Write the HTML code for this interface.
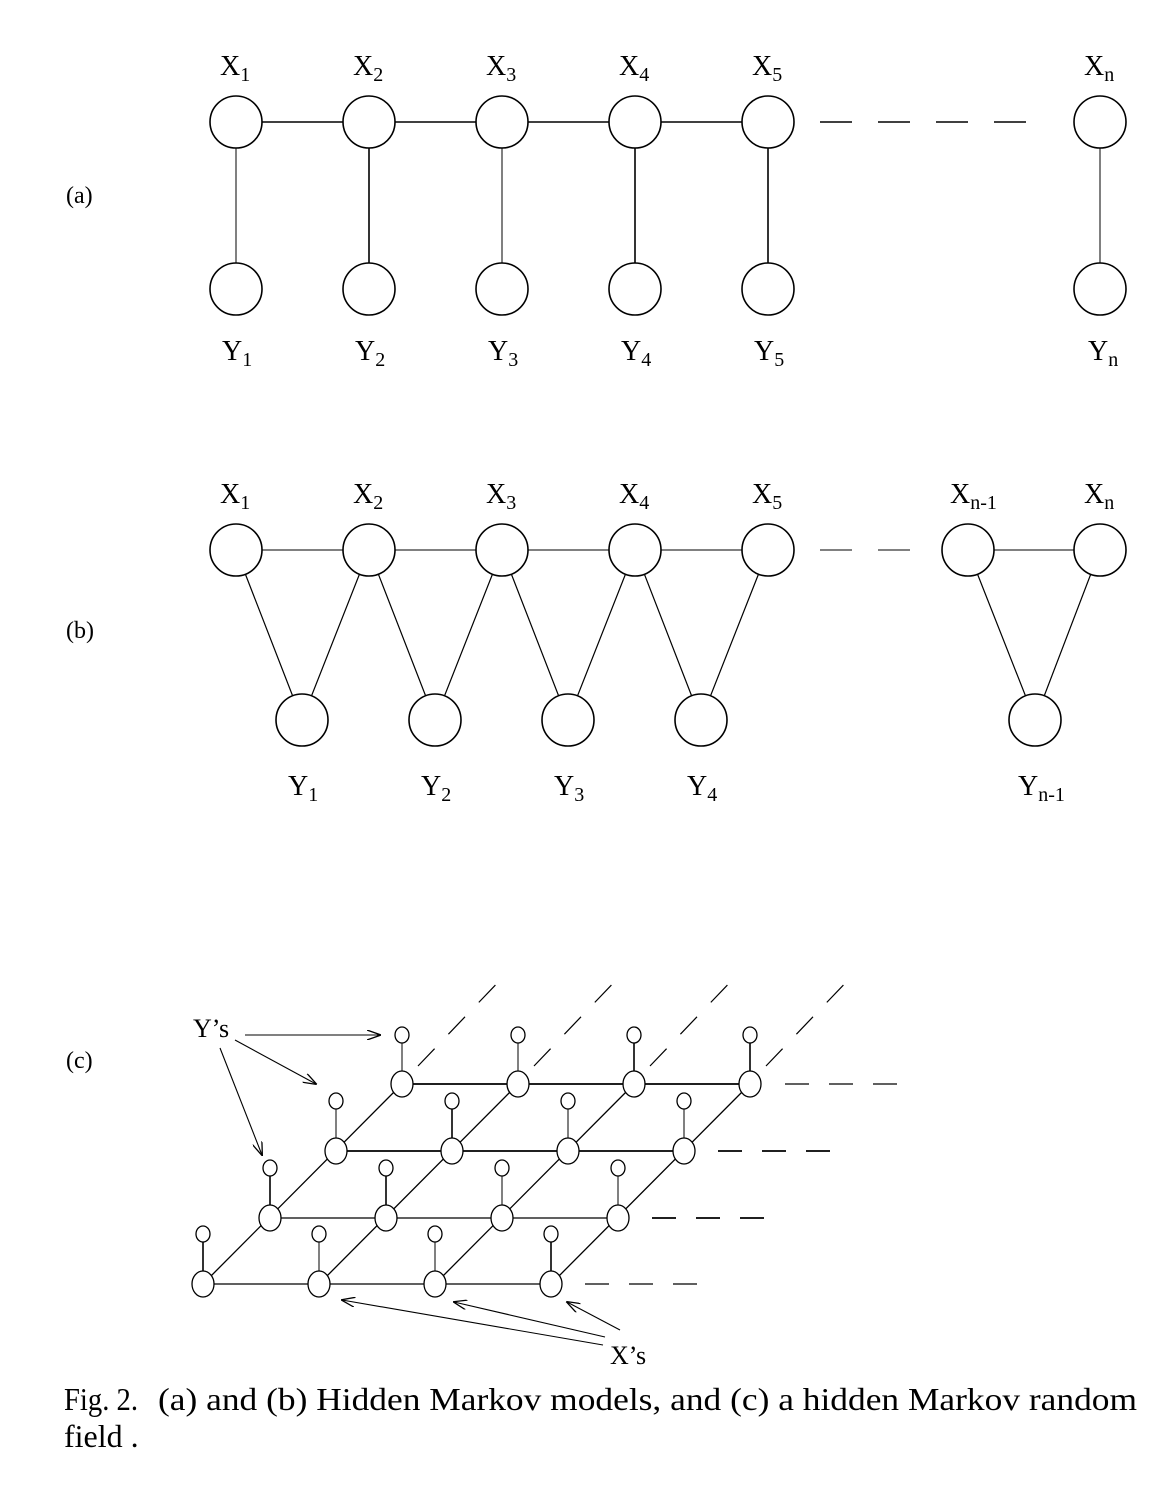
<!DOCTYPE html>
<html><head><style>
html,body{margin:0;padding:0;background:#fff;}
svg{display:block;}
text{font-family:"Liberation Serif",serif;fill:#000;}
</style></head><body>
<svg width="1172" height="1500" viewBox="0 0 1172 1500" xmlns="http://www.w3.org/2000/svg">
<defs>
<marker id="ah" markerWidth="14" markerHeight="10" refX="13" refY="5" orient="auto" markerUnits="userSpaceOnUse">
<path d="M0,0 L14,5 L0,10" fill="none" stroke="#000" stroke-width="1.3"/>
</marker>
</defs>
<g stroke="#000" stroke-width="1.6" fill="none">
<line x1="262" y1="122" x2="343" y2="122"/>
<line x1="395" y1="122" x2="476" y2="122"/>
<line x1="528" y1="122" x2="609" y2="122"/>
<line x1="661" y1="122" x2="742" y2="122"/>
<line x1="820" y1="122" x2="1050" y2="122" stroke-dasharray="32,26"/>
<line x1="236" y1="148" x2="236" y2="263" stroke-width="1"/>
<line x1="369" y1="148" x2="369" y2="263"/>
<line x1="502" y1="148" x2="502" y2="263" stroke-width="1"/>
<line x1="635" y1="148" x2="635" y2="263"/>
<line x1="768" y1="148" x2="768" y2="263"/>
<line x1="1100" y1="148" x2="1100" y2="263" stroke-width="1"/>
<circle cx="236" cy="122" r="26"/><circle cx="369" cy="122" r="26"/><circle cx="502" cy="122" r="26"/><circle cx="635" cy="122" r="26"/><circle cx="768" cy="122" r="26"/><circle cx="1100" cy="122" r="26"/>
<circle cx="236" cy="289" r="26"/><circle cx="369" cy="289" r="26"/><circle cx="502" cy="289" r="26"/><circle cx="635" cy="289" r="26"/><circle cx="768" cy="289" r="26"/><circle cx="1100" cy="289" r="26"/>
<line x1="262" y1="550" x2="343" y2="550" stroke-width="1"/>
<line x1="395" y1="550" x2="476" y2="550" stroke-width="1"/>
<line x1="528" y1="550" x2="609" y2="550" stroke-width="1"/>
<line x1="661" y1="550" x2="742" y2="550" stroke-width="1"/>
<line x1="820" y1="550" x2="920" y2="550" stroke-dasharray="32,26" stroke-width="1"/>
<line x1="994" y1="550" x2="1074" y2="550" stroke-width="1"/>
<g stroke-width="1.2">
<line x1="236" y1="550" x2="302" y2="720"/><line x1="302" y1="720" x2="369" y2="550"/>
<line x1="369" y1="550" x2="435" y2="720"/><line x1="435" y1="720" x2="502" y2="550"/>
<line x1="502" y1="550" x2="568" y2="720"/><line x1="568" y1="720" x2="635" y2="550"/>
<line x1="635" y1="550" x2="701" y2="720"/><line x1="701" y1="720" x2="768" y2="550"/>
<line x1="968" y1="550" x2="1035" y2="720"/><line x1="1035" y1="720" x2="1100" y2="550"/>
</g>
<g fill="#fff">
<circle cx="236" cy="550" r="26"/><circle cx="369" cy="550" r="26"/><circle cx="502" cy="550" r="26"/><circle cx="635" cy="550" r="26"/><circle cx="768" cy="550" r="26"/><circle cx="968" cy="550" r="26"/><circle cx="1100" cy="550" r="26"/>
<circle cx="302" cy="720" r="26"/><circle cx="435" cy="720" r="26"/><circle cx="568" cy="720" r="26"/><circle cx="701" cy="720" r="26"/><circle cx="1035" cy="720" r="26"/>
</g>
<g stroke-width="1.3">
<line x1="203" y1="1284" x2="551" y2="1284"/>
<line x1="270" y1="1218" x2="618" y2="1218"/>
<line x1="336" y1="1151" x2="684" y2="1151" stroke-width="1.8"/>
<line x1="402" y1="1084" x2="750" y2="1084" stroke-width="1.8"/>
<line x1="203" y1="1284" x2="402" y2="1084"/>
<line x1="319" y1="1284" x2="518" y2="1084"/>
<line x1="435" y1="1284" x2="634" y2="1084"/>
<line x1="551" y1="1284" x2="750" y2="1084"/>
</g>
<g stroke-dasharray="24,20" stroke-width="1.2">
<line x1="585" y1="1284" x2="705" y2="1284"/>
<line x1="652" y1="1218" x2="770" y2="1218" stroke-width="1.8"/>
<line x1="718" y1="1151" x2="835" y2="1151" stroke-width="1.8"/>
<line x1="785" y1="1084" x2="905" y2="1084"/>
<line x1="418" y1="1066" x2="505" y2="975"/>
<line x1="534" y1="1066" x2="621" y2="975"/>
<line x1="650" y1="1066" x2="737" y2="975"/>
<line x1="766" y1="1066" x2="853" y2="975"/>
</g>
<g stroke-width="1.6">
<line x1="203" y1="1242" x2="203" y2="1272"/><line x1="319" y1="1242" x2="319" y2="1272" stroke-width="1"/><line x1="435" y1="1242" x2="435" y2="1272" stroke-width="1"/><line x1="551" y1="1242" x2="551" y2="1272"/>
<line x1="270" y1="1176" x2="270" y2="1206"/><line x1="386" y1="1176" x2="386" y2="1206"/><line x1="502" y1="1176" x2="502" y2="1206" stroke-width="1"/><line x1="618" y1="1176" x2="618" y2="1206" stroke-width="1"/>
<line x1="336" y1="1109" x2="336" y2="1139" stroke-width="1"/><line x1="452" y1="1109" x2="452" y2="1139"/><line x1="568" y1="1109" x2="568" y2="1139" stroke-width="1"/><line x1="684" y1="1109" x2="684" y2="1139" stroke-width="1"/>
<line x1="402" y1="1043" x2="402" y2="1072" stroke-width="1"/><line x1="518" y1="1043" x2="518" y2="1072" stroke-width="1"/><line x1="634" y1="1043" x2="634" y2="1072"/><line x1="750" y1="1043" x2="750" y2="1072"/>
</g>
<g fill="#fff" stroke-width="1.3">
<ellipse cx="203" cy="1284" rx="11" ry="13"/><ellipse cx="319" cy="1284" rx="11" ry="13"/><ellipse cx="435" cy="1284" rx="11" ry="13"/><ellipse cx="551" cy="1284" rx="11" ry="13"/>
<ellipse cx="270" cy="1218" rx="11" ry="13"/><ellipse cx="386" cy="1218" rx="11" ry="13"/><ellipse cx="502" cy="1218" rx="11" ry="13"/><ellipse cx="618" cy="1218" rx="11" ry="13"/>
<ellipse cx="336" cy="1151" rx="11" ry="13"/><ellipse cx="452" cy="1151" rx="11" ry="13"/><ellipse cx="568" cy="1151" rx="11" ry="13"/><ellipse cx="684" cy="1151" rx="11" ry="13"/>
<ellipse cx="402" cy="1084" rx="11" ry="13"/><ellipse cx="518" cy="1084" rx="11" ry="13"/><ellipse cx="634" cy="1084" rx="11" ry="13"/><ellipse cx="750" cy="1084" rx="11" ry="13"/>
<ellipse cx="203" cy="1234" rx="7" ry="8"/><ellipse cx="319" cy="1234" rx="7" ry="8"/><ellipse cx="435" cy="1234" rx="7" ry="8"/><ellipse cx="551" cy="1234" rx="7" ry="8"/>
<ellipse cx="270" cy="1168" rx="7" ry="8"/><ellipse cx="386" cy="1168" rx="7" ry="8"/><ellipse cx="502" cy="1168" rx="7" ry="8"/><ellipse cx="618" cy="1168" rx="7" ry="8"/>
<ellipse cx="336" cy="1101" rx="7" ry="8"/><ellipse cx="452" cy="1101" rx="7" ry="8"/><ellipse cx="568" cy="1101" rx="7" ry="8"/><ellipse cx="684" cy="1101" rx="7" ry="8"/>
<ellipse cx="402" cy="1035" rx="7" ry="8"/><ellipse cx="518" cy="1035" rx="7" ry="8"/><ellipse cx="634" cy="1035" rx="7" ry="8"/><ellipse cx="750" cy="1035" rx="7" ry="8"/>
</g>
<g stroke-width="1.1">
<line x1="245" y1="1035" x2="380" y2="1035" marker-end="url(#ah)"/>
<line x1="235" y1="1040" x2="316" y2="1084" marker-end="url(#ah)"/>
<line x1="220" y1="1048" x2="262" y2="1155" marker-end="url(#ah)"/>
<line x1="603" y1="1345" x2="342" y2="1300" marker-end="url(#ah)"/>
<line x1="605" y1="1337" x2="454" y2="1302" marker-end="url(#ah)"/>
<line x1="620" y1="1330" x2="567" y2="1302" marker-end="url(#ah)"/>
</g>
</g>
<g font-size="24">
<text x="66" y="203">(a)</text>
<text x="66" y="638">(b)</text>
<text x="66" y="1068">(c)</text>
</g>
<g font-size="28">
<text x="220" y="75">X<tspan font-size="20" dy="6">1</tspan></text>
<text x="353" y="75">X<tspan font-size="20" dy="6">2</tspan></text>
<text x="486" y="75">X<tspan font-size="20" dy="6">3</tspan></text>
<text x="619" y="75">X<tspan font-size="20" dy="6">4</tspan></text>
<text x="752" y="75">X<tspan font-size="20" dy="6">5</tspan></text>
<text x="1084" y="75">X<tspan font-size="20" dy="6">n</tspan></text>
<text x="222" y="360">Y<tspan font-size="20" dy="6">1</tspan></text>
<text x="355" y="360">Y<tspan font-size="20" dy="6">2</tspan></text>
<text x="488" y="360">Y<tspan font-size="20" dy="6">3</tspan></text>
<text x="621" y="360">Y<tspan font-size="20" dy="6">4</tspan></text>
<text x="754" y="360">Y<tspan font-size="20" dy="6">5</tspan></text>
<text x="1088" y="360">Y<tspan font-size="20" dy="6">n</tspan></text>
<text x="220" y="503">X<tspan font-size="20" dy="6">1</tspan></text>
<text x="353" y="503">X<tspan font-size="20" dy="6">2</tspan></text>
<text x="486" y="503">X<tspan font-size="20" dy="6">3</tspan></text>
<text x="619" y="503">X<tspan font-size="20" dy="6">4</tspan></text>
<text x="752" y="503">X<tspan font-size="20" dy="6">5</tspan></text>
<text x="950" y="503">X<tspan font-size="20" dy="6">n-1</tspan></text>
<text x="1084" y="503">X<tspan font-size="20" dy="6">n</tspan></text>
<text x="288" y="795">Y<tspan font-size="20" dy="6">1</tspan></text>
<text x="421" y="795">Y<tspan font-size="20" dy="6">2</tspan></text>
<text x="554" y="795">Y<tspan font-size="20" dy="6">3</tspan></text>
<text x="687" y="795">Y<tspan font-size="20" dy="6">4</tspan></text>
<text x="1018" y="795">Y<tspan font-size="20" dy="6">n-1</tspan></text>
<text x="193" y="1037" font-size="26">Y’s</text>
<text x="610" y="1364" font-size="26">X’s</text>
</g>
<g font-size="32">
<text x="64" y="1410" textLength="74" lengthAdjust="spacingAndGlyphs">Fig. 2.</text>
<text x="158" y="1410" textLength="979" lengthAdjust="spacingAndGlyphs">(a) and (b) Hidden Markov models, and (c) a hidden Markov random</text>
<text x="64" y="1447">field .</text>
</g>
</svg>
</body></html>
